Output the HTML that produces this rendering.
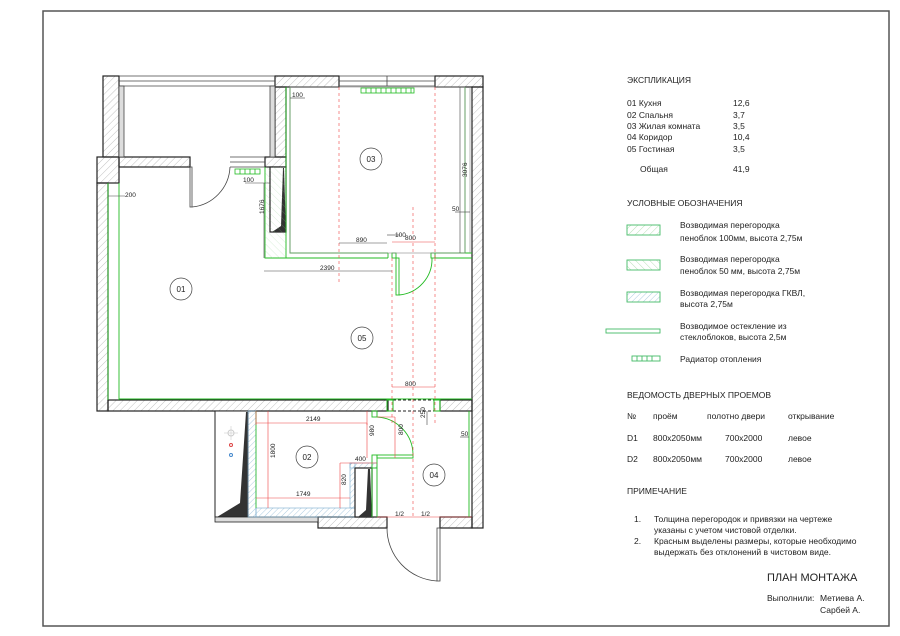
<!DOCTYPE html>
<html><head><meta charset="utf-8"><style>
html,body{margin:0;padding:0;background:#fff;width:900px;height:636px;overflow:hidden}
svg{display:block}
text{font-family:"Liberation Sans",sans-serif;fill:#222}
</style></head><body>
<svg width="900" height="636" viewBox="0 0 900 636" xmlns="http://www.w3.org/2000/svg">
<defs>
<pattern id="h" width="5" height="5" patternUnits="userSpaceOnUse" patternTransform="rotate(45)">
<line x1="0" y1="0" x2="0" y2="5" stroke="#999" stroke-width="0.6"/></pattern>
<pattern id="hg" width="5" height="5" patternUnits="userSpaceOnUse" patternTransform="rotate(45)">
<line x1="0" y1="0" x2="0" y2="5" stroke="#8c8" stroke-width="0.6"/></pattern>
<pattern id="hg2" width="5" height="5" patternUnits="userSpaceOnUse" patternTransform="rotate(-45)">
<line x1="0" y1="0" x2="0" y2="5" stroke="#8c8" stroke-width="0.6"/></pattern>
<pattern id="hb" width="4" height="4" patternUnits="userSpaceOnUse" patternTransform="rotate(45)">
<line x1="0" y1="0" x2="0" y2="4" stroke="#7ac" stroke-width="0.6"/></pattern>
</defs>
<rect x="43" y="11" width="846" height="615" fill="none" stroke="#555" stroke-width="1.5"/>

<!-- walls -->
<g stroke="#222" stroke-width="1.2" fill="url(#h)">
<rect x="103" y="76" width="16" height="81"/>
<rect x="275" y="76" width="64" height="11"/>
<rect x="435" y="76" width="48" height="11"/>
<rect x="275" y="87" width="11" height="70"/>
<rect x="472" y="87" width="11" height="441"/>
<rect x="97" y="157" width="22" height="26"/>
<rect x="119" y="157" width="71" height="10"/>
<rect x="265" y="157" width="21" height="10"/>
<rect x="97" y="183" width="11" height="228"/>
<rect x="108" y="400" width="280" height="11"/>
<rect x="440" y="400" width="32" height="11"/>
<rect x="318" y="517" width="69" height="11"/>
<rect x="440" y="517" width="32" height="11"/>
</g>
<!-- balcony glazing -->
<g stroke="#444" stroke-width="0.8" fill="none">
<line x1="119" y1="76" x2="275" y2="76"/><line x1="119" y1="81" x2="275" y2="81"/><line x1="119" y1="86" x2="275" y2="86"/>
<line x1="339" y1="76" x2="435" y2="76"/><line x1="339" y1="81" x2="435" y2="81"/><line x1="339" y1="86" x2="435" y2="86"/>
<line x1="387" y1="76" x2="387" y2="86"/>
<rect x="119" y="86" width="5" height="71" fill="#ddd"/>
<rect x="270" y="86" width="5" height="71" fill="#ddd"/>
<line x1="230" y1="157" x2="265" y2="157"/><line x1="230" y1="162" x2="265" y2="162"/><line x1="230" y1="167" x2="265" y2="167"/>
<!-- door 190 -->
<rect x="190" y="167" width="2" height="40"/>
<path d="M192 207 A42 42 0 0 0 230 167"/>
</g>
<!-- wardrobe top -->
<rect x="270" y="167" width="16" height="65" fill="#fff" stroke="#222" stroke-width="1.2"/>
<polygon points="283,168 284,168 286,232 272,232 281,226" fill="#333"/>
<!-- green partitions room 03 -->
<g stroke="#2b2" stroke-width="0.9" fill="none">
<polyline points="290,87 290,253 388,253"/>
<polyline points="286,87 286,258 265,258 265,167"/>
<line x1="265" y1="258" x2="388" y2="258"/>
<line x1="435" y1="253" x2="472" y2="253"/><line x1="435" y1="258" x2="472" y2="258"/>
<line x1="465" y1="87" x2="465" y2="253"/>
<line x1="388" y1="253" x2="388" y2="258"/>
<rect x="392" y="253" width="4" height="5"/>
<rect x="431" y="253" width="4" height="5"/>
<rect x="396" y="258" width="3" height="37"/>
<path d="M399 295 A36 36 0 0 0 432 258" />
<line x1="108" y1="183" x2="108" y2="400" />
<line x1="119" y1="183" x2="119" y2="400" />
<line x1="119" y1="399" x2="472" y2="399"/>
</g>
<rect x="265" y="167" width="21" height="91" fill="url(#hg2)" opacity="0.5"/>
<rect x="290" y="87" width="175" height="166" fill="none" stroke="#888" stroke-width="0.6"/>
<line x1="470" y1="87" x2="470" y2="253" stroke="#888" stroke-width="0.6"/>
<!-- radiators -->
<g stroke="#2b2" stroke-width="0.8" fill="none">
<rect x="361" y="88" width="53" height="5"/>
<path d="M366 88v5M371 88v5M376 88v5M381 88v5M386 88v5M391 88v5M396 88v5M401 88v5M406 88v5M411 88v5"/>
<rect x="235" y="169" width="25" height="5"/>
<path d="M240 169v5M245 169v5M250 169v5M255 169v5"/>
</g>
<!-- door between 05 and 04 -->
<g stroke="#222" stroke-width="1" stroke-dasharray="3,2"><line x1="388" y1="400" x2="440" y2="400"/><line x1="388" y1="411" x2="440" y2="411"/></g>
<rect x="387" y="400" width="6" height="11" fill="none" stroke="#2b2"/>
<rect x="434" y="400" width="6" height="11" fill="none" stroke="#2b2"/>
<!-- bathroom block -->
<rect x="215" y="411" width="33" height="106" fill="#fff" stroke="#222" stroke-width="1"/>
<polygon points="246,412 248,412 248,517 217,517 240,503" fill="#333"/>
<rect x="215" y="517" width="103" height="5" fill="#ddd" stroke="#222" stroke-width="0.8"/>
<circle cx="231" cy="433" r="3" fill="none" stroke="#ccc"/><line x1="224" y1="433" x2="238" y2="433" stroke="#ccc" stroke-width="0.6"/><line x1="231" y1="426" x2="231" y2="440" stroke="#ccc" stroke-width="0.6"/>
<circle cx="231" cy="445" r="1.5" fill="none" stroke="#d44"/><circle cx="231" cy="455" r="1.5" fill="none" stroke="#48c"/>
<g stroke="#7ac" stroke-width="0.6" fill="url(#hb)">
<rect x="248" y="411" width="8" height="106"/>
<rect x="256" y="508" width="99" height="9"/>
<rect x="350" y="463" width="5" height="45"/>
<rect x="350" y="463" width="27" height="5"/>
</g>
<line x1="256" y1="411" x2="256" y2="508" stroke="#2b2" stroke-width="0.8"/>
<rect x="355" y="468" width="17" height="49" fill="#fff" stroke="#222" stroke-width="1.2"/>
<polygon points="368,469 370,469 372,517 358,517 366,510" fill="#333"/>
<g stroke="#2b2" stroke-width="0.9" fill="none">
<line x1="372" y1="468" x2="372" y2="517"/><line x1="377" y1="468" x2="377" y2="517"/>
<rect x="372" y="411" width="5" height="6"/><rect x="372" y="455" width="5" height="13"/>
<rect x="377" y="455" width="36" height="3"/>
<path d="M377 417 A38 38 0 0 1 413 455"/>
<line x1="469" y1="411" x2="469" y2="517"/>
</g>
<!-- entrance door -->
<g stroke="#444" stroke-width="0.8" fill="none">
<rect x="437" y="528" width="3" height="53"/>
<path d="M387 528 A53 53 0 0 0 437 581"/>
</g>
<!-- red dims -->
<g stroke="#e44" stroke-width="0.6" fill="none">
<g stroke-dasharray="3,3">
<line x1="339" y1="87" x2="339" y2="282"/><line x1="435" y1="87" x2="435" y2="258"/>
<line x1="392" y1="258" x2="392" y2="425"/><line x1="435" y1="258" x2="435" y2="425"/>
<line x1="413" y1="207" x2="413" y2="517"/>
</g>
<line x1="392" y1="242" x2="435" y2="242"/>
<line x1="392" y1="387" x2="435" y2="387"/>
<line x1="256" y1="423" x2="367" y2="423"/><line x1="256" y1="411" x2="256" y2="425"/><line x1="367" y1="411" x2="367" y2="425"/>
<line x1="268" y1="411" x2="268" y2="508"/>
<line x1="256" y1="498" x2="350" y2="498"/>
<line x1="340" y1="463" x2="340" y2="508"/>
<line x1="340" y1="463" x2="377" y2="463"/>
<line x1="367" y1="423" x2="367" y2="458"/>
<line x1="395" y1="417" x2="395" y2="458"/><line x1="377" y1="417" x2="395" y2="417"/>
<line x1="377" y1="517" x2="472" y2="517"/>
</g>
<!-- black dims -->
<g stroke="#444" stroke-width="0.6" fill="none">
<line x1="290" y1="98" x2="305" y2="98"/>
<line x1="108" y1="196" x2="125" y2="196"/>
<line x1="245" y1="183" x2="270" y2="183"/>
<line x1="264" y1="183" x2="264" y2="258"/>
<line x1="264" y1="271" x2="392" y2="271"/>
<line x1="339" y1="243" x2="387" y2="243"/>
<line x1="387" y1="235" x2="400" y2="235"/>
<line x1="455" y1="212" x2="470" y2="212"/>
<line x1="460" y1="87" x2="460" y2="253"/>
<line x1="427" y1="411" x2="427" y2="425"/>
<line x1="460" y1="437" x2="469" y2="437"/>
</g>
<g font-size="6.5" fill="#333">
<text x="292" y="97">100</text>
<text x="125" y="197">200</text>
<text x="243" y="182">100</text>
<text x="254" y="218" transform="rotate(-90 257 211)">1676</text>
<text x="320" y="270">2390</text>
<text x="356" y="242">890</text>
<text x="395" y="237">100</text>
<text x="452" y="211">50</text>
<text x="452" y="178" transform="rotate(-90 459 170)">3076</text>
<text x="425" y="418" transform="rotate(-90 425 418)">250</text>
<text x="461" y="436">50</text>
</g>
<g font-size="6.5" fill="#e44">
<text x="405" y="240" fill="#e44">800</text>
<text x="405" y="386" fill="#e44">800</text>
<text x="306" y="421" fill="#e44">2149</text>
<text x="296" y="496" fill="#e44">1749</text>
<text x="355" y="461" fill="#e44">400</text>
<text x="268" y="465" transform="rotate(-90 268 458)" fill="#e44">1800</text>
<text x="367" y="443" transform="rotate(-90 367 436)" fill="#e44">980</text>
<text x="340" y="491" transform="rotate(-90 340 485)" fill="#e44">820</text>
<text x="397" y="441" transform="rotate(-90 397 435)" fill="#e44">800</text>
<text x="395" y="516" fill="#e44">1/2</text>
<text x="421" y="516" fill="#e44">1/2</text>
</g>
<!-- room tags -->
<g font-size="8" fill="none" stroke="#444" stroke-width="0.7">
<circle cx="371" cy="159" r="11"/><circle cx="181" cy="289" r="11"/><circle cx="362" cy="338" r="11"/><circle cx="307" cy="457" r="11"/><circle cx="434" cy="475" r="11"/>
</g>
<g font-size="8" text-anchor="middle">
<text x="371" y="162">03</text><text x="181" y="292">01</text><text x="362" y="341">05</text><text x="307" y="460">02</text><text x="434" y="478">04</text>
</g>

<!-- right panel -->
<g font-size="8.5">
<text x="627" y="83">ЭКСПЛИКАЦИЯ</text>
<text x="627" y="106">01 Кухня</text><text x="733" y="106">12,6</text>
<text x="627" y="118">02 Спальня</text><text x="733" y="118">3,7</text>
<text x="627" y="129">03 Жилая комната</text><text x="733" y="129">3,5</text>
<text x="627" y="140">04 Коридор</text><text x="733" y="140">10,4</text>
<text x="627" y="152">05 Гостиная</text><text x="733" y="152">3,5</text>
<text x="640" y="172">Общая</text><text x="733" y="172">41,9</text>
<text x="627" y="206">УСЛОВНЫЕ ОБОЗНАЧЕНИЯ</text>
<text x="680" y="228">Возводимая перегородка</text><text x="680" y="241">пеноблок 100мм, высота 2,75м</text>
<text x="680" y="262">Возводимая перегородка</text><text x="680" y="274">пеноблок 50 мм, высота 2,75м</text>
<text x="680" y="296">Возводимая перегородка ГКВЛ,</text><text x="680" y="307">высота 2,75м</text>
<text x="680" y="329">Возводимое остекление из</text><text x="680" y="340">стеклоблоков, высота 2,5м</text>
<text x="680" y="362">Радиатор отопления</text>
<text x="627" y="398">ВЕДОМОСТЬ ДВЕРНЫХ ПРОЕМОВ</text>
<text x="627" y="419">№</text><text x="653" y="419">проём</text><text x="707" y="419">полотно двери</text><text x="788" y="419">открывание</text>
<text x="627" y="441">D1</text><text x="653" y="441">800x2050мм</text><text x="725" y="441">700x2000</text><text x="788" y="441">левое</text>
<text x="627" y="462">D2</text><text x="653" y="462">800x2050мм</text><text x="725" y="462">700x2000</text><text x="788" y="462">левое</text>
<text x="627" y="494">ПРИМЕЧАНИЕ</text>
<text x="634" y="522">1.</text><text x="654" y="522">Толщина перегородок и привязки на чертеже</text>
<text x="654" y="533">указаны с учетом чистовой отделки.</text>
<text x="634" y="544">2.</text><text x="654" y="544">Красным выделены размеры, которые необходимо</text>
<text x="654" y="555">выдержать без отклонений в чистовом виде.</text>
<text x="767" y="581" font-size="11">ПЛАН МОНТАЖА</text>
<text x="767" y="601">Выполнили:</text><text x="820" y="601">Метиева А.</text>
<text x="820" y="613">Сарбей А.</text>
</g>
<g stroke-width="0.9" fill="none">
<rect x="627" y="225" width="33" height="10" stroke="#4b6" fill="url(#hg)"/>
<rect x="627" y="260" width="33" height="10" stroke="#4b6" fill="url(#hg2)"/>
<rect x="627" y="292" width="33" height="10" stroke="#4b6" fill="url(#hb)"/>
<rect x="606" y="329" width="54" height="4" stroke="#4b6"/>
<rect x="632" y="356" width="28" height="5" stroke="#4b6"/>
<path d="M637 356v5M642 356v5M647 356v5M652 356v5" stroke="#4b6"/>
</g>
</svg>
</body></html>
